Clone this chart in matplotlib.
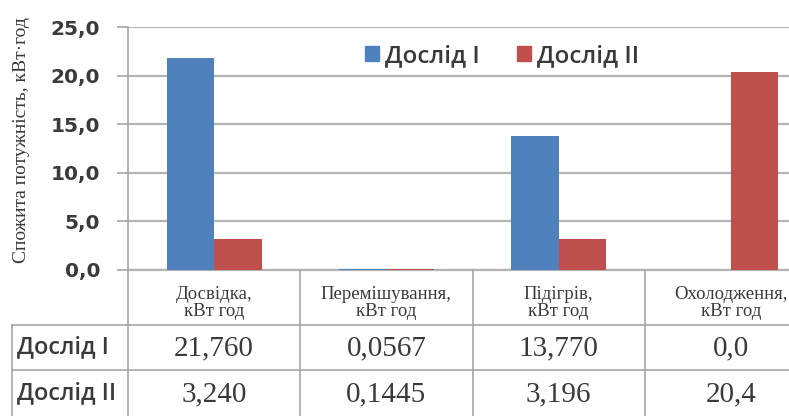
import matplotlib.pyplot as plt
import matplotlib.transforms as mtransforms
from matplotlib.patches import Patch
from matplotlib.ticker import FuncFormatter
import numpy as np

categories = ["Досвідка,\nкВт год", "Перемішування,\nкВт год",
              "Підігрів,\nкВт год", "Охолодження,\nкВт год"]
series_names = ["Дослід I", "Дослід II"]
dosl1 = [21.760, 0.0567, 13.770, 0.0]
dosl2 = [3.240, 0.1445, 3.196, 20.4]
dosl1_text = ["21,760", "0,0567", "13,770", "0,0"]
dosl2_text = ["3,240", "0,1445", "3,196", "20,4"]

blue = "#4f81bd"
red = "#c0504d"
grid_col = "#b4b4b4"
line_col = "#a6a6a6"
txt_col = "#3a3a3a"
sans = ["DejaVu Sans"]
label_font = ["Open Sans", "DejaVu Sans"]
serif = ["Liberation Serif", "DejaVu Serif"]

fig = plt.figure(figsize=(7.89, 4.16), dpi=100)
W, H = 789, 416
ax = fig.add_axes([128 / W, (H - 270) / H, 689 / W, 243 / H])

x = np.arange(len(categories))
bw = 0.276
ax.bar(x - bw / 2, dosl1, bw, color=blue, zorder=3)
ax.bar(x + bw / 2, dosl2, bw, color=red, zorder=3)

ax.set_xlim(-0.5, len(categories) - 0.5)
ax.set_ylim(0, 25)
ax.set_yticks(np.arange(0, 26, 5))
ax.yaxis.set_major_formatter(FuncFormatter(lambda v, p: f"{v:.1f}".replace(".", ",")))
ax.set_xticks([])
ax.grid(axis="y", color=grid_col, linewidth=1.6, zorder=0)
for s in ["top", "right"]:
    ax.spines[s].set_visible(False)
ax.spines["left"].set_color(line_col)
ax.spines["bottom"].set_color(grid_col)
ax.spines["left"].set_linewidth(1.2)
ax.spines["bottom"].set_linewidth(1.6)
ax.tick_params(axis="y", length=8, width=1.2, color=line_col, pad=12,
               labelsize=14.5, labelcolor=txt_col)
for lab in ax.get_yticklabels():
    lab.set_family(sans)
    lab.set_fontweight("bold")

fig.text(22 / W, (H - 140) / H, "Спожита потужність, кВт·год", rotation=90,
         ha="center", va="center", family=serif, fontsize=14, color=txt_col)

handles = [Patch(color=blue), Patch(color=red)]
leg = ax.legend(handles, series_names, ncol=2, frameon=False,
                loc="center", bbox_to_anchor=(502 / W, (H - 56) / H),
                bbox_transform=fig.transFigure, handlelength=0.6, handleheight=0.6,
                handletextpad=0.25, columnspacing=1.5,
                prop={"family": label_font, "size": 17.5, "weight": "semibold"})
for t in leg.get_texts():
    t.set_color(txt_col)

# data table under the bars
tr = mtransforms.blended_transform_factory(ax.transData, fig.transFigure)
y_axis = (H - 270) / H
y_r1 = (H - 325) / H
y_r2 = (H - 370) / H
left = -0.5 - 116 / 172.25
right = len(categories) - 0.5
kw = dict(color=line_col, linewidth=1.2, transform=tr, clip_on=False)
for yy in [y_r1, y_r2]:
    fig.add_artist(plt.Line2D([left, right], [yy, yy], **kw))
fig.add_artist(plt.Line2D([left, left], [0, y_r1], **kw))
for xx in np.arange(len(categories)) - 0.5:
    fig.add_artist(plt.Line2D([xx, xx], [0, y_axis], **kw))

for i, c in enumerate(categories):
    fig.text(i, (H - 303) / H, c, transform=tr, ha="center", va="center",
             family=serif, fontsize=13.5, color=txt_col, linespacing=1.05)
    fig.text(i, (H - 348) / H, dosl1_text[i], transform=tr, ha="center", va="center",
             family=serif, fontsize=21, color=txt_col)
    fig.text(i, (H - 394) / H, dosl2_text[i], transform=tr, ha="center", va="center",
             family=serif, fontsize=21, color=txt_col)

fig.text(17 / W, (H - 347) / H, series_names[0], ha="left", va="center",
         family=label_font, fontsize=17, fontweight="semibold", color=txt_col)
fig.text(17 / W, (H - 393) / H, series_names[1], ha="left", va="center",
         family=label_font, fontsize=17, fontweight="semibold", color=txt_col)

fig.savefig("out.png", dpi=100)
